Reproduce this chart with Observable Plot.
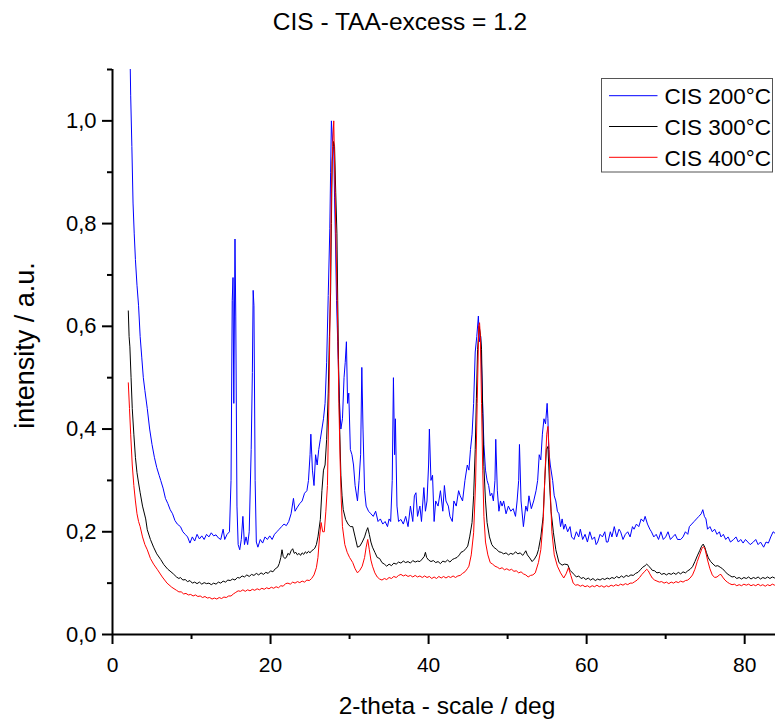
<!DOCTYPE html>
<html><head><meta charset="utf-8">
<script src="https://cdn.jsdelivr.net/npm/d3@7"></script>
<script src="https://cdn.jsdelivr.net/npm/@observablehq/plot@0.6"></script>
<style>
body{margin:0;background:#fff;font-family:"Liberation Sans",Arial,sans-serif;}
#wrap{position:relative;width:775px;height:724px;overflow:hidden;}
#head{position:relative;height:46px;}
#title{position:absolute;top:9.7px;left:25px;width:750px;text-align:center;font-size:24.5px;line-height:24px;color:#000;}
#legend{position:absolute;left:0;top:0;pointer-events:none;}
</style></head>
<body><div id="wrap"><div id="head"><div id="title">CIS - TAA-excess = 1.2</div></div><div id="chart"></div></div>
<script>
const seriesNames = ["CIS 200°C","CIS 300°C","CIS 400°C"];
const seriesColors = ["#0000ff","#000000","#ff0000"];
const xMajorTicks = [0,20,40,60,80];
const xMinorTicks = [10,30,50,70];
const yMajorTicks = [0,0.2,0.4,0.6,0.8,1.0];
const yMinorTicks = [0.1,0.3,0.5,0.7,0.9,1.1];

const cis200 = [[2.2,1.15],[2.3,1.05],[2.45,0.95],[2.6,0.84],[2.75,0.78],[2.9,0.73],[3.1,0.68],[3.3,0.64],[3.5,0.58],[3.7,0.54],[3.9,0.50],[4.1,0.475],[4.4,0.44],[4.7,0.40],[5.0,0.37],[5.3,0.345],[5.6,0.325],[5.9,0.31],[6.1,0.30],[6.4,0.285],[6.7,0.265],[7.0,0.255],[7.3,0.243],[7.6,0.235],[7.9,0.222],[8.2,0.215],[8.6,0.21],[8.9,0.20],[9.2,0.195],[9.5,0.19],[9.8,0.178],[10.1,0.19],[10.4,0.182],[10.7,0.195],[11.0,0.186],[11.3,0.192],[11.6,0.185],[11.9,0.195],[12.2,0.19],[12.5,0.198],[12.8,0.192],[13.1,0.194],[13.4,0.188],[13.7,0.185],[14.0,0.205],[14.2,0.185],[14.5,0.195],[14.8,0.2],[15.0,0.3],[15.15,0.65],[15.25,0.695],[15.35,0.45],[15.5,0.77],[15.6,0.62],[15.75,0.25],[15.9,0.175],[16.1,0.165],[16.3,0.185],[16.5,0.23],[16.7,0.175],[16.9,0.19],[17.1,0.175],[17.3,0.2],[17.55,0.36],[17.7,0.51],[17.8,0.67],[17.9,0.64],[18.05,0.3],[18.2,0.18],[18.4,0.17],[18.7,0.185],[19.0,0.178],[19.3,0.19],[19.6,0.185],[19.9,0.192],[20.2,0.185],[20.5,0.195],[20.8,0.2],[21.1,0.205],[21.4,0.21],[21.7,0.215],[22.0,0.212],[22.3,0.22],[22.6,0.235],[22.9,0.265],[23.1,0.24],[23.4,0.248],[23.7,0.255],[24.0,0.26],[24.3,0.275],[24.6,0.28],[24.8,0.3],[25.0,0.35],[25.1,0.39],[25.3,0.32],[25.5,0.29],[25.7,0.35],[25.9,0.33],[26.1,0.36],[26.3,0.38],[26.5,0.4],[26.7,0.42],[26.9,0.45],[27.1,0.53],[27.3,0.66],[27.5,0.79],[27.6,0.9],[27.7,1.0],[27.85,0.96],[28.0,0.95],[28.1,0.85],[28.2,0.78],[28.35,0.65],[28.5,0.57],[28.7,0.46],[28.9,0.40],[29.1,0.42],[29.3,0.5],[29.45,0.53],[29.6,0.57],[29.75,0.45],[29.9,0.47],[30.1,0.36],[30.3,0.35],[30.5,0.33],[30.7,0.29],[31.0,0.26],[31.2,0.3],[31.4,0.35],[31.55,0.52],[31.7,0.4],[31.9,0.28],[32.1,0.25],[32.4,0.24],[32.7,0.235],[33.0,0.23],[33.3,0.24],[33.6,0.22],[33.9,0.225],[34.2,0.215],[34.5,0.22],[34.8,0.21],[35.0,0.225],[35.2,0.22],[35.4,0.3],[35.55,0.5],[35.7,0.35],[35.8,0.42],[36.0,0.25],[36.2,0.22],[36.5,0.224],[36.8,0.215],[37.1,0.23],[37.4,0.21],[37.7,0.25],[38.0,0.22],[38.2,0.27],[38.4,0.276],[38.6,0.23],[38.9,0.25],[39.1,0.22],[39.4,0.286],[39.6,0.24],[39.8,0.26],[40.0,0.33],[40.1,0.40],[40.3,0.3],[40.5,0.31],[40.7,0.22],[40.9,0.26],[41.2,0.25],[41.5,0.28],[41.8,0.24],[42.0,0.29],[42.2,0.26],[42.5,0.25],[42.7,0.23],[43.0,0.22],[43.2,0.26],[43.5,0.25],[43.8,0.28],[44.0,0.27],[44.3,0.26],[44.6,0.3],[44.9,0.33],[45.1,0.32],[45.3,0.36],[45.5,0.39],[45.7,0.45],[45.9,0.55],[46.1,0.58],[46.3,0.62],[46.45,0.57],[46.6,0.58],[46.8,0.47],[47.0,0.37],[47.2,0.32],[47.4,0.30],[47.6,0.29],[47.8,0.27],[48.0,0.275],[48.2,0.26],[48.4,0.3],[48.5,0.38],[48.7,0.28],[48.9,0.24],[49.1,0.26],[49.3,0.25],[49.5,0.26],[49.8,0.235],[50.1,0.25],[50.4,0.24],[50.7,0.245],[51.0,0.23],[51.2,0.26],[51.4,0.3],[51.5,0.37],[51.7,0.26],[52.0,0.21],[52.3,0.25],[52.5,0.24],[52.7,0.27],[53.0,0.245],[53.3,0.26],[53.6,0.28],[53.8,0.3],[54.0,0.35],[54.2,0.34],[54.4,0.39],[54.6,0.42],[54.8,0.41],[55.0,0.45],[55.1,0.42],[55.2,0.36],[55.4,0.33],[55.7,0.30],[55.9,0.27],[56.1,0.26],[56.3,0.24],[56.5,0.235],[56.7,0.21],[56.9,0.225],[57.1,0.205],[57.3,0.215],[57.6,0.2],[57.9,0.21],[58.1,0.19],[58.4,0.185],[58.7,0.2],[59.0,0.19],[59.2,0.205],[59.5,0.185],[59.8,0.195],[60.1,0.18],[60.4,0.2],[60.7,0.185],[61.0,0.19],[61.2,0.175],[61.4,0.18],[61.7,0.195],[62.0,0.19],[62.3,0.2],[62.5,0.18],[62.7,0.18],[63.0,0.2],[63.2,0.19],[63.5,0.21],[63.8,0.19],[64.1,0.205],[64.3,0.2],[64.6,0.185],[64.9,0.195],[65.2,0.2],[65.5,0.19],[65.8,0.21],[66.0,0.205],[66.3,0.215],[66.6,0.21],[66.9,0.225],[67.2,0.22],[67.4,0.23],[67.7,0.215],[68.0,0.205],[68.2,0.2],[68.5,0.19],[68.8,0.195],[69.1,0.185],[69.4,0.2],[69.7,0.185],[70.0,0.19],[70.3,0.2],[70.6,0.185],[70.9,0.19],[71.2,0.195],[71.5,0.185],[71.9,0.185],[72.2,0.19],[72.5,0.2],[72.8,0.195],[73.0,0.21],[73.3,0.215],[73.6,0.22],[73.9,0.225],[74.2,0.23],[74.5,0.235],[74.7,0.243],[74.9,0.23],[75.1,0.225],[75.3,0.205],[75.6,0.21],[75.9,0.2],[76.2,0.205],[76.5,0.195],[76.8,0.2],[77.0,0.19],[77.3,0.195],[77.6,0.185],[77.9,0.19],[78.2,0.18],[78.6,0.185],[78.9,0.19],[79.2,0.18],[79.5,0.185],[79.8,0.178],[80.1,0.185],[80.4,0.18],[80.7,0.175],[81.1,0.18],[81.4,0.185],[81.7,0.175],[82.0,0.18],[82.4,0.17],[82.7,0.18],[83.0,0.178],[83.3,0.19],[83.6,0.2],[84.0,0.195]];

const cis300 = [[2.0,0.63],[2.1,0.58],[2.2,0.56],[2.35,0.5],[2.5,0.44],[2.7,0.39],[2.9,0.345],[3.1,0.315],[3.3,0.295],[3.5,0.276],[3.8,0.25],[4.2,0.225],[4.4,0.204],[4.8,0.185],[5.2,0.17],[5.6,0.157],[6.1,0.146],[6.5,0.136],[7.0,0.127],[7.4,0.122],[7.7,0.118],[8.1,0.112],[8.4,0.109],[8.6,0.111],[8.9,0.106],[9.2,0.107],[9.5,0.103],[9.8,0.105],[10.1,0.1],[10.4,0.102],[10.7,0.099],[11.0,0.102],[11.3,0.098],[11.6,0.101],[11.9,0.099],[12.2,0.1],[12.5,0.097],[12.8,0.1],[13.1,0.098],[13.4,0.102],[13.7,0.1],[14.0,0.104],[14.3,0.102],[14.6,0.106],[14.9,0.105],[15.2,0.108],[15.5,0.106],[15.8,0.111],[16.1,0.11],[16.4,0.114],[16.7,0.112],[17.0,0.116],[17.3,0.113],[17.6,0.117],[17.9,0.115],[18.2,0.119],[18.5,0.116],[18.8,0.12],[19.1,0.117],[19.4,0.121],[19.7,0.119],[20.0,0.124],[20.3,0.122],[20.6,0.128],[20.9,0.131],[21.1,0.138],[21.3,0.15],[21.45,0.165],[21.6,0.152],[21.8,0.148],[22.0,0.15],[22.2,0.158],[22.4,0.155],[22.6,0.163],[22.8,0.167],[23.0,0.158],[23.2,0.16],[23.4,0.155],[23.6,0.158],[23.8,0.154],[24.0,0.159],[24.2,0.156],[24.4,0.161],[24.6,0.158],[24.8,0.162],[25.0,0.159],[25.2,0.163],[25.4,0.165],[25.6,0.168],[25.8,0.175],[26.0,0.19],[26.3,0.224],[26.5,0.28],[26.7,0.32],[26.9,0.33],[27.1,0.38],[27.3,0.47],[27.45,0.58],[27.6,0.665],[27.7,0.8],[27.8,0.92],[27.95,0.96],[28.1,0.95],[28.25,0.86],[28.4,0.78],[28.5,0.65],[28.6,0.535],[28.75,0.4],[28.9,0.31],[29.05,0.27],[29.2,0.243],[29.5,0.224],[29.8,0.215],[30.1,0.21],[30.4,0.21],[30.7,0.19],[31.0,0.17],[31.3,0.172],[31.6,0.18],[31.9,0.19],[32.1,0.2],[32.3,0.208],[32.5,0.195],[32.7,0.18],[32.9,0.17],[33.2,0.16],[33.5,0.15],[33.8,0.148],[34.1,0.14],[34.4,0.137],[34.7,0.133],[35.0,0.137],[35.3,0.134],[35.6,0.139],[35.9,0.137],[36.2,0.141],[36.5,0.139],[36.8,0.143],[37.1,0.14],[37.4,0.142],[37.7,0.139],[38.0,0.144],[38.3,0.141],[38.6,0.143],[38.9,0.142],[39.2,0.147],[39.45,0.152],[39.6,0.16],[39.75,0.15],[40.0,0.145],[40.3,0.142],[40.6,0.144],[40.9,0.14],[41.2,0.142],[41.5,0.138],[41.8,0.143],[42.1,0.141],[42.4,0.145],[42.7,0.141],[43.0,0.146],[43.3,0.148],[43.6,0.15],[43.9,0.155],[44.1,0.16],[44.4,0.162],[44.7,0.167],[44.95,0.172],[45.2,0.19],[45.5,0.218],[45.7,0.27],[45.9,0.36],[46.05,0.46],[46.2,0.555],[46.4,0.6],[46.55,0.585],[46.7,0.555],[46.85,0.43],[47.0,0.327],[47.2,0.26],[47.4,0.218],[47.7,0.19],[48.0,0.175],[48.3,0.169],[48.6,0.166],[48.9,0.161],[49.2,0.16],[49.5,0.157],[49.8,0.159],[50.1,0.155],[50.4,0.158],[50.7,0.156],[51.0,0.161],[51.3,0.157],[51.6,0.159],[51.9,0.154],[52.1,0.158],[52.3,0.163],[52.5,0.155],[52.8,0.149],[53.1,0.142],[53.4,0.147],[53.7,0.155],[53.9,0.165],[54.2,0.19],[54.5,0.23],[54.7,0.3],[54.9,0.36],[55.1,0.366],[55.3,0.295],[55.5,0.24],[55.8,0.198],[56.1,0.165],[56.5,0.14],[56.9,0.135],[57.2,0.137],[57.6,0.136],[57.9,0.125],[58.4,0.117],[58.7,0.112],[59.0,0.114],[59.3,0.109],[59.6,0.111],[59.9,0.107],[60.2,0.11],[60.5,0.106],[60.8,0.109],[61.1,0.105],[61.4,0.108],[61.7,0.106],[62.0,0.109],[62.3,0.107],[62.6,0.11],[62.9,0.108],[63.2,0.111],[63.5,0.109],[63.8,0.113],[64.1,0.11],[64.4,0.114],[64.7,0.111],[65.0,0.115],[65.3,0.113],[65.6,0.116],[65.9,0.115],[66.2,0.119],[66.5,0.121],[66.8,0.126],[67.1,0.131],[67.4,0.134],[67.6,0.137],[67.8,0.134],[68.0,0.131],[68.3,0.125],[68.6,0.124],[68.9,0.12],[69.2,0.121],[69.5,0.117],[69.8,0.119],[70.1,0.116],[70.4,0.119],[70.7,0.117],[71.0,0.12],[71.3,0.117],[71.6,0.121],[71.9,0.118],[72.2,0.122],[72.5,0.12],[72.8,0.124],[73.1,0.127],[73.4,0.132],[73.7,0.142],[74.0,0.153],[74.3,0.163],[74.55,0.172],[74.75,0.176],[74.95,0.17],[75.15,0.16],[75.4,0.149],[75.7,0.142],[76.0,0.137],[76.3,0.133],[76.6,0.134],[76.9,0.131],[77.2,0.128],[77.5,0.123],[77.8,0.118],[78.1,0.115],[78.4,0.112],[78.7,0.113],[79.0,0.109],[79.3,0.111],[79.6,0.108],[79.9,0.111],[80.2,0.109],[80.5,0.112],[80.8,0.108],[81.1,0.111],[81.4,0.109],[81.7,0.112],[82.0,0.108],[82.3,0.111],[82.6,0.109],[82.9,0.112],[83.2,0.109],[83.5,0.112],[83.8,0.11],[84.0,0.111]];

const cis400 = [[2.0,0.49],[2.15,0.44],[2.3,0.39],[2.5,0.33],[2.7,0.29],[2.9,0.26],[3.1,0.235],[3.3,0.22],[3.5,0.21],[3.8,0.19],[4.1,0.175],[4.4,0.165],[4.8,0.148],[5.2,0.137],[5.7,0.126],[6.3,0.112],[6.9,0.1],[7.5,0.092],[8.1,0.086],[8.4,0.083],[8.7,0.083],[9.0,0.079],[9.3,0.08],[9.6,0.077],[9.9,0.078],[10.2,0.075],[10.5,0.077],[10.8,0.074],[11.1,0.075],[11.4,0.072],[11.7,0.074],[12.0,0.071],[12.3,0.072],[12.6,0.069],[12.9,0.071],[13.2,0.069],[13.5,0.072],[13.8,0.07],[14.1,0.073],[14.4,0.072],[14.7,0.075],[15.0,0.075],[15.3,0.079],[15.6,0.082],[15.9,0.085],[16.2,0.084],[16.5,0.087],[16.8,0.084],[17.1,0.087],[17.4,0.085],[17.7,0.088],[18.0,0.086],[18.3,0.089],[18.6,0.087],[18.9,0.09],[19.2,0.088],[19.5,0.091],[19.8,0.089],[20.1,0.092],[20.4,0.09],[20.7,0.093],[21.0,0.091],[21.3,0.095],[21.6,0.094],[21.9,0.099],[22.2,0.1],[22.5,0.098],[22.8,0.102],[23.1,0.1],[23.4,0.103],[23.7,0.101],[24.0,0.104],[24.3,0.102],[24.6,0.106],[24.9,0.105],[25.2,0.109],[25.5,0.116],[25.8,0.13],[26.0,0.15],[26.2,0.19],[26.4,0.218],[26.6,0.2],[26.8,0.2],[27.0,0.24],[27.2,0.29],[27.4,0.47],[27.55,0.65],[27.7,0.86],[27.85,0.95],[28.0,1.0],[28.1,0.92],[28.3,0.75],[28.5,0.6],[28.65,0.45],[28.8,0.34],[28.95,0.26],[29.1,0.21],[29.4,0.175],[29.7,0.16],[30.0,0.15],[30.4,0.14],[30.7,0.128],[31.0,0.12],[31.3,0.125],[31.6,0.133],[31.9,0.15],[32.1,0.17],[32.3,0.185],[32.5,0.165],[32.7,0.145],[32.9,0.133],[33.2,0.12],[33.5,0.112],[33.8,0.108],[34.1,0.106],[34.4,0.109],[34.7,0.107],[35.0,0.111],[35.3,0.109],[35.6,0.113],[35.9,0.111],[36.2,0.115],[36.5,0.117],[36.8,0.114],[37.1,0.116],[37.4,0.113],[37.7,0.115],[38.0,0.112],[38.3,0.115],[38.6,0.112],[38.9,0.114],[39.2,0.111],[39.5,0.114],[39.8,0.111],[40.1,0.113],[40.4,0.109],[40.7,0.112],[41.0,0.109],[41.3,0.113],[41.6,0.11],[41.9,0.113],[42.2,0.11],[42.5,0.113],[42.8,0.111],[43.1,0.114],[43.4,0.111],[43.7,0.114],[44.0,0.115],[44.3,0.119],[44.6,0.122],[44.9,0.128],[45.1,0.133],[45.4,0.155],[45.7,0.198],[45.95,0.295],[46.15,0.45],[46.35,0.6],[46.45,0.607],[46.55,0.58],[46.7,0.45],[46.85,0.32],[47.0,0.23],[47.2,0.18],[47.5,0.155],[47.8,0.14],[48.1,0.137],[48.4,0.133],[48.7,0.131],[49.0,0.128],[49.3,0.13],[49.6,0.126],[49.9,0.128],[50.2,0.125],[50.5,0.127],[50.8,0.123],[51.1,0.124],[51.4,0.12],[51.7,0.122],[52.0,0.118],[52.3,0.116],[52.6,0.112],[52.9,0.115],[53.2,0.116],[53.5,0.12],[53.9,0.14],[54.2,0.165],[54.5,0.22],[54.75,0.32],[54.95,0.39],[55.1,0.405],[55.25,0.36],[55.4,0.28],[55.6,0.2],[55.9,0.155],[56.3,0.133],[56.7,0.12],[57.1,0.11],[57.4,0.118],[57.7,0.13],[58.0,0.115],[58.3,0.1],[58.6,0.096],[58.9,0.097],[59.2,0.094],[59.5,0.096],[59.8,0.093],[60.1,0.095],[60.4,0.092],[60.7,0.095],[61.0,0.093],[61.3,0.096],[61.6,0.093],[61.9,0.095],[62.2,0.092],[62.5,0.095],[62.8,0.093],[63.1,0.096],[63.4,0.094],[63.7,0.097],[64.0,0.095],[64.3,0.098],[64.6,0.096],[64.9,0.099],[65.2,0.097],[65.5,0.1],[65.8,0.1],[66.1,0.103],[66.4,0.106],[66.7,0.111],[67.0,0.117],[67.3,0.122],[67.6,0.127],[67.8,0.124],[68.0,0.118],[68.3,0.11],[68.6,0.106],[68.9,0.104],[69.2,0.102],[69.5,0.103],[69.8,0.1],[70.1,0.102],[70.4,0.099],[70.7,0.102],[71.0,0.1],[71.3,0.103],[71.6,0.101],[71.9,0.104],[72.2,0.102],[72.5,0.105],[72.8,0.106],[73.1,0.11],[73.4,0.116],[73.7,0.127],[74.0,0.142],[74.3,0.155],[74.6,0.168],[74.8,0.171],[75.0,0.165],[75.3,0.145],[75.6,0.128],[75.9,0.116],[76.2,0.111],[76.5,0.112],[76.8,0.116],[77.0,0.117],[77.2,0.112],[77.5,0.106],[77.8,0.102],[78.1,0.099],[78.4,0.097],[78.7,0.098],[79.0,0.095],[79.3,0.097],[79.6,0.095],[79.9,0.098],[80.2,0.096],[80.5,0.098],[80.8,0.095],[81.1,0.097],[81.4,0.095],[81.7,0.098],[82.0,0.095],[82.3,0.097],[82.6,0.094],[82.9,0.097],[83.2,0.095],[83.5,0.098],[83.8,0.096],[84.0,0.097]];

const series = [cis200, cis300, cis400];
const fmtY = d => d3.format(".1f")(d).replace(".", ",");

const chart = Plot.plot({
  width: 775, height: 678,
  marginTop: 23, marginBottom: 90, marginLeft: 112, marginRight: 0,
  x: {domain: [0, 83.9]},
  y: {domain: [0, 1.1]},
  style: {fontFamily: "'Liberation Sans', Arial, sans-serif", color: "#000", background: "#fff", overflow: "visible"},
  marks: [
    ...series.map((s, i) => Plot.line(s, {x: d => d[0], y: d => d[1], stroke: seriesColors[i], strokeWidth: 1, clip: true})),
    Plot.axisX({ticks: xMajorTicks, tickSize: 10, tickPadding: 12.7, strokeWidth: 2, fontSize: 21, tickFormat: d => String(d), label: null}),
    Plot.axisX({ticks: xMinorTicks, tickSize: 5, strokeWidth: 2, tickFormat: () => "", label: null}),
    Plot.axisY({ticks: yMajorTicks, tickSize: 10, tickPadding: 6, strokeWidth: 2, fontSize: 22, tickFormat: fmtY, label: null}),
    Plot.axisY({ticks: yMinorTicks, tickSize: 5, strokeWidth: 2, tickFormat: () => "", label: null}),
    Plot.ruleX([0], {y1: 0, y2: 1.1, stroke: "#000", strokeWidth: 2}),
    Plot.ruleY([0], {x1: 0, x2: 83.9, stroke: "#000", strokeWidth: 2}),
    Plot.text(["2-theta - scale / deg"], {frameAnchor: "bottom", text: d => d, textAnchor: "middle", lineAnchor: "middle", dy: 72, dx: 3, fontSize: 24.5}),
    Plot.text(["intensity / a.u."], {frameAnchor: "left", text: d => d, textAnchor: "middle", rotate: -90, lineAnchor: "middle", dx: -87, dy: -6.5, fontSize: 27})
  ]
});
document.getElementById("chart").appendChild(chart);

// legend overlay
const NS = "http://www.w3.org/2000/svg";
const lg = document.createElementNS(NS, "svg");
lg.setAttribute("id", "legend");
lg.setAttribute("width", 775); lg.setAttribute("height", 724);
const box = document.createElementNS(NS, "rect");
box.setAttribute("x", 601.5); box.setAttribute("y", 78.5); box.setAttribute("width", 171); box.setAttribute("height", 93.5);
box.setAttribute("fill", "#fff"); box.setAttribute("stroke", "#555"); box.setAttribute("stroke-width", 1);
lg.appendChild(box);
seriesNames.forEach((name, i) => {
  const cy = 95.7 + i * 30.8;
  const ln = document.createElementNS(NS, "line");
  ln.setAttribute("x1", 609); ln.setAttribute("x2", 657.5); ln.setAttribute("y1", cy); ln.setAttribute("y2", cy);
  ln.setAttribute("stroke", seriesColors[i]); ln.setAttribute("stroke-width", 1);
  lg.appendChild(ln);
  const t = document.createElementNS(NS, "text");
  t.setAttribute("x", 664.5); t.setAttribute("y", cy + 8.5);
  t.setAttribute("font-size", 22.5); t.setAttribute("font-family", "'Liberation Sans', Arial, sans-serif");
  t.textContent = name;
  lg.appendChild(t);
});
document.getElementById("wrap").appendChild(lg);
</script></body></html>
